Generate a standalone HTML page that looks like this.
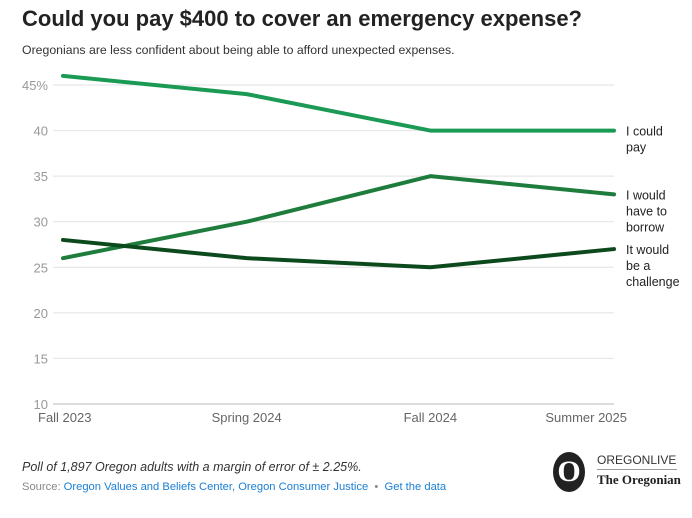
<!DOCTYPE html>
<html><head><meta charset="utf-8"><style>
body{margin:0;background:#fff;font-family:"Liberation Sans",sans-serif;}
#wrap{position:relative;width:692px;height:518px;overflow:hidden;}
h1{position:absolute;left:22px;top:6px;margin:0;font-size:22px;font-weight:bold;color:#222;white-space:nowrap;}
.sub{position:absolute;left:22px;top:43px;font-size:12.3px;color:#333;white-space:nowrap;}
.note{position:absolute;left:22px;top:460px;font-size:12.5px;font-style:italic;color:#333;white-space:nowrap;}
.src{position:absolute;left:22px;top:481px;font-size:11.2px;color:#888;white-space:nowrap;}
.src a{color:#1a7fd4;text-decoration:none;}
</style></head><body>
<div id="wrap">
<h1>Could you pay $400 to cover an emergency expense?</h1>
<div class="sub">Oregonians are less confident about being able to afford unexpected expenses.</div>
<svg id="chart" width="692" height="440" style="position:absolute;left:0;top:0"></svg>
<div class="note">Poll of 1,897 Oregon adults with a margin of error of ± 2.25%.</div>
<div class="src">Source: <a>Oregon Values and Beliefs Center, Oregon Consumer Justice</a> &nbsp;•&nbsp; <a>Get the data</a></div>
<div style="position:absolute;left:553px;top:452px;width:135px;height:42px;">
<div style="position:absolute;left:0;top:0;width:32px;height:40px;border-radius:50%;background:#222;color:#fff;font:bold 30px 'Liberation Serif',serif;text-align:center;line-height:40px;">O</div>
<div style="position:absolute;left:44px;top:1px;font-size:12px;color:#333;white-space:nowrap;">OREGONLIVE</div>
<div style="position:absolute;left:44px;top:17px;width:80px;border-top:1px solid #999;"></div>
<div style="position:absolute;left:44px;top:20px;font:bold 13px 'Liberation Serif',serif;color:#222;white-space:nowrap;">The Oregonian</div>
</div>
</div>
<script>
const categories=["Fall 2023","Spring 2024","Fall 2024","Summer 2025"];
const couldPay=[46,44,40,40];
const borrow=[26,30,35,33];
const challenge=[28,26,25,27];
const yTicks=[10,15,20,25,30,35,40,45];
const NS="http://www.w3.org/2000/svg";
const svg=document.getElementById('chart');
const x0=63,x1=614,yMin=10,yMax=45,py0=404,py1=85;
function xs(i){return x0+i*(x1-x0)/(categories.length-1);}
function ys(v){return py0-(v-yMin)*(py0-py1)/(yMax-yMin);}
function mk(t,a){const e=document.createElementNS(NS,t);for(const k in a)e.setAttribute(k,a[k]);svg.appendChild(e);return e;}
yTicks.forEach((v,i)=>{
 const l=mk('line',{x1:53,x2:x1,y1:ys(v),y2:ys(v),stroke:v===10?'#bbb':'#e2e2e2','stroke-width':1});
 
 
 const t=mk('text',{x:48,y:ys(v)+5,'text-anchor':'end','font-size':13,fill:'#999','font-family':'Liberation Sans'});
 t.textContent=v+(i===yTicks.length-1?'%':'');
 
 
});
categories.forEach((c,i)=>{
 const anchor=i===0?'start':(i===categories.length-1?'end':'middle');
 const t=mk('text',{x:i===0?38:(i===categories.length-1?x1+13:xs(i)),y:422,'text-anchor':anchor,'font-size':13,fill:'#666','font-family':'Liberation Sans'});
 t.textContent=c;
 
 
});
const series=[[couldPay,'#1b9a55',['I could','pay'],'line-could-pay'],[borrow,'#1e7d3c',['I would','have to','borrow'],'line-borrow'],[challenge,'#0c4a1d',['It would','be a','challenge'],'line-challenge']];
series.forEach(s=>{
 const p=mk('polyline',{points:s[0].map((v,i)=>xs(i)+','+ys(v)).join(' '),fill:'none',stroke:s[1],'stroke-width':4,'stroke-linejoin':'round','stroke-linecap':'round'});
 
 
 const last=s[0][s[0].length-1];
 s[2].forEach((ln,j)=>{
  const t=mk('text',{x:626,y:ys(last)+5+j*16,'font-size':12.5,fill:'#222','font-family':'Liberation Sans'});
  t.textContent=ln;
  
  
 });
});
</script>
</body></html>
